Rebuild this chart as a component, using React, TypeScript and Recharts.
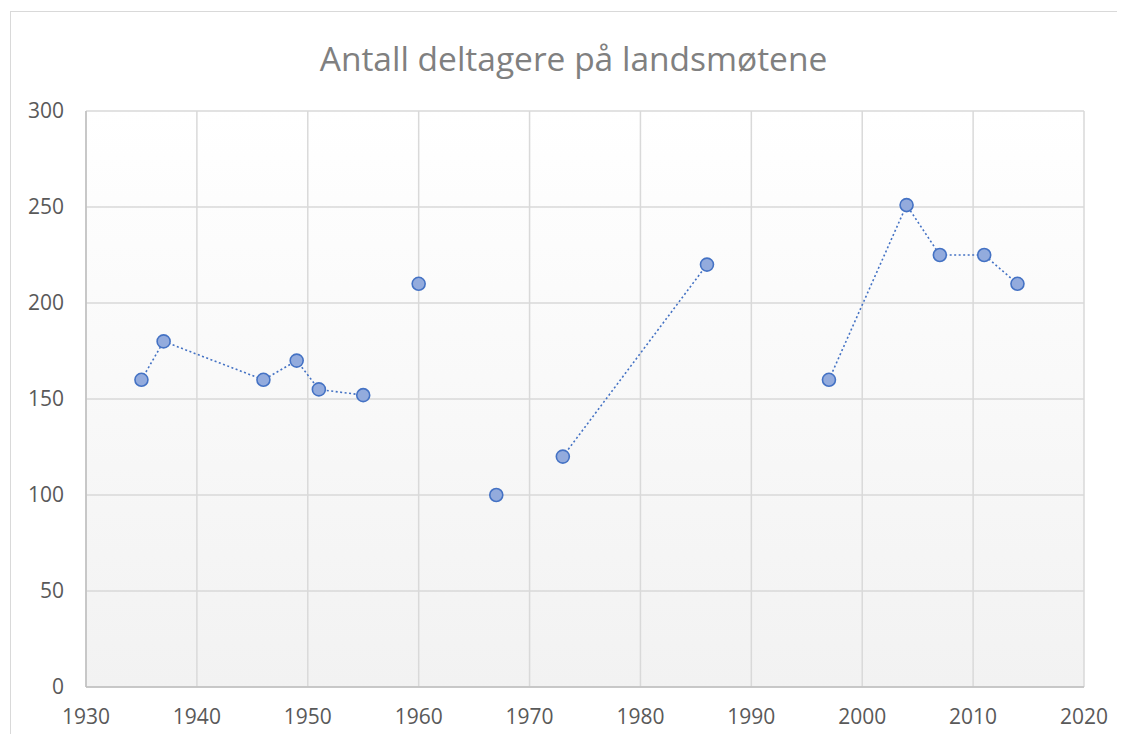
import { ScatterChart, Scatter, XAxis, YAxis, CartesianGrid } from "recharts";

const years = [1935, 1937, 1946, 1949, 1951, 1955, 1960, 1967, 1973, 1986, 1997, 2004, 2007, 2011, 2014];
const participants = [160, 180, 160, 170, 155, 152, 210, 100, 120, 220, 160, 251, 225, 225, 210];
// which connected run each meeting belongs to (gaps in the dotted line)
const segment = [0, 0, 0, 0, 0, 0, 1, 2, 3, 3, 4, 4, 4, 4, 4];
const xTicks = [1930, 1940, 1950, 1960, 1970, 1980, 1990, 2000, 2010, 2020];
const yTicks = [0, 50, 100, 150, 200, 250, 300];

const points = years.map((year, i) => ({ year, count: participants[i], seg: segment[i] }));
const runs = Array.from(new Set(segment)).map((s) => points.filter((p) => p.seg === s));

const font = "'Open Sans', sans-serif";

const Dot = (props: any) => (
  <circle cx={props.cx} cy={props.cy} r={6.5} fill="#93ABDD" stroke="#4472C4" strokeWidth={1.6} />
);

export default function App() {
  return (
    <div
      style={{
        position: "relative",
        width: 1117,
        height: 734,
        marginBottom: -8,
        marginRight: -8,
        overflow: "hidden",
      }}
    >
      <div
        style={{
          position: "absolute",
          left: 2,
          top: 3,
          width: 1130,
          height: 740,
          border: "1.5px solid #d9d9d9",
          boxSizing: "border-box",
        }}
      />
      <div
        style={{
          position: "absolute",
          left: 0,
          top: 0,
          width: 1117,
          textAlign: "center",
          fontFamily: font,
          fontSize: 33.5,
          color: "#808080",
          lineHeight: "40px",
          paddingTop: 30,
          paddingLeft: 14,
          boxSizing: "border-box",
        }}
      >
        Antall deltagere på landsmøtene
      </div>
      <div style={{ position: "absolute", left: 0, top: 0 }}>
        <ScatterChart width={1117} height={734} margin={{ top: 103, right: 41, bottom: 0, left: 0 }}>
          <defs>
            <linearGradient id="plotBg" x1="0" y1="0" x2="0" y2="1">
              <stop offset="0%" stopColor="#ffffff" />
              <stop offset="100%" stopColor="#f2f2f2" />
            </linearGradient>
          </defs>
          <CartesianGrid stroke="#d9d9d9" strokeWidth={1.5} fill="url(#plotBg)" />
          <XAxis
            type="number"
            dataKey="year"
            domain={[1930, 2020]}
            ticks={xTicks}
            height={55}
            tickLine={false}
            tickSize={0}
            tickMargin={22}
            stroke="#bfbfbf"
            strokeWidth={1.5}
            tick={{ fill: "#595959", fontSize: 21, fontFamily: font }}
          />
          <YAxis
            type="number"
            dataKey="count"
            domain={[0, 300]}
            ticks={yTicks}
            width={78}
            tickLine={false}
            tickSize={0}
            tickMargin={22}
            stroke="#bfbfbf"
            strokeWidth={1.5}
            tick={{ fill: "#595959", fontSize: 21, fontFamily: font }}
          />
          {runs.map((run, i) => (
            <Scatter
              key={i}
              data={run}
              line={{ stroke: "#4472C4", strokeWidth: 1.6, strokeDasharray: "2 2.5" }}
              shape={Dot}
              isAnimationActive={false}
            />
          ))}
        </ScatterChart>
      </div>
    </div>
  );
}
